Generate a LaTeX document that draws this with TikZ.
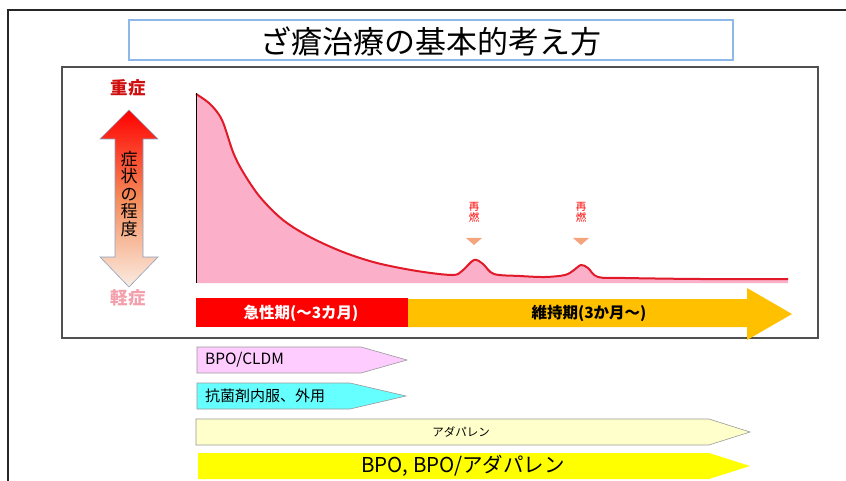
\documentclass[tikz,border=0pt]{standalone}
\usepackage{fontspec}
\setmainfont{Noto Sans CJK JP}
\usetikzlibrary{shapes.geometric}
\definecolor{titleblue}{HTML}{8DB8E8}
\definecolor{curvepink}{HTML}{FBAFC8}
\definecolor{curvered}{HTML}{E01A28}
\definecolor{phasered}{HTML}{FF0000}
\definecolor{phaseorange}{HTML}{FFC000}
\definecolor{bpopink}{HTML}{FFCCFF}
\definecolor{abcyan}{HTML}{66FFFF}
\definecolor{adacream}{HTML}{FFFFCC}
\definecolor{bpoyellow}{HTML}{FFFF00}
\definecolor{severe}{HTML}{D01010}
\definecolor{mild}{HTML}{F4A0AC}
\definecolor{trisalmon}{HTML}{F4A57E}
\definecolor{frame}{HTML}{505050}
\definecolor{arrowedge}{HTML}{8CA0BE}
\tikzset{
  frameline/.style={draw=frame, line width=1.2pt},
  drugbox/.style={draw=gray!80, line width=0.6pt},
  lbl/.style={inner sep=0pt, font=\fontsize{15.5}{17}\selectfont},
  relapse/.style={inner sep=0pt, text=red, align=center, font=\fontsize{10.5}{11}\selectfont},
}
\begin{document}
\begin{tikzpicture}[x=1pt,y=-1pt]
\useasboundingbox (0,0) rectangle (846,481);
% outer frame
\draw[draw=black!85, line width=2pt] (8,490) -- (8,10) -- (850,10);
% title
\node[draw=titleblue, line width=1.2pt, minimum width=604pt, minimum height=40pt, inner sep=0pt] (title) at (431,40) {};
\node[inner sep=0pt, font=\fontsize{31}{32}\selectfont] (titletext) at (431,41) {ざ瘡治療の基本的考え方};
% inner frame
\draw[frameline] (62,67) rectangle (818,338);
% severity arrow
\path[draw=arrowedge, line width=0.6pt, top color=red, bottom color={rgb,255:red,250;green,236;blue,226}, middle color={rgb,255:red,245;green,140;blue,90}]
  (129,110) -- (158,139) -- (143,139) -- (143,257) -- (158,257) -- (129,287) -- (100,257) -- (115,257) -- (115,139) -- (100,139) -- cycle;
\node[inner sep=0pt, align=center, font=\fontsize{17}{17.5}\selectfont] (degree) at (129,194) {症\\状\\の\\程\\度};
\node[inner sep=0pt, text=severe, font=\bfseries\fontsize{17.5}{18}\selectfont] (sev) at (128,88) {重症};
\node[inner sep=0pt, text=mild, font=\bfseries\fontsize{17.5}{18}\selectfont] (mildtxt) at (128,298) {軽症};
% curve
\def\curvepts{(196,94) (210,104) (222,120) (233,152) (243,172) (260,197) (283,220) (310,237) (343,252) (377,263) (417,271) (452,275) (462,271) (474,260) (483,264) (494,274) (520,276) (545,277) (565,275) (574,270) (581,265) (588,268) (598,277) (625,278) (700,279) (788,279)}
\fill[curvepink] plot[smooth, tension=0.55] coordinates {\curvepts} -- (788,283) -- (196,283) -- cycle;
\draw[curvered, line width=2pt] plot[smooth, tension=0.55] coordinates {\curvepts};
\draw[black, line width=1pt] (196,93) -- (196,283);
% relapse marks
\node[relapse] (r1) at (474,212) {再\\燃};
\node[relapse] (r2) at (581,212) {再\\燃};
\fill[trisalmon] (466,238) -- (482,238) -- (474,245) -- cycle;
\fill[trisalmon] (573,238) -- (589,238) -- (581,245) -- cycle;
% phases
\fill[phaseorange] (408,299) -- (747,299) -- (747,288) -- (792,314) -- (747,340) -- (747,327) -- (408,327) -- cycle;
\fill[phasered] (196,298) rectangle (408,327);
\node[inner sep=0pt, text=white, font=\bfseries\fontsize{15.5}{17}\selectfont] (acute) at (301,313) {急性期(～3カ月)};
\node[inner sep=0pt, text=black, font=\bfseries\fontsize{15.5}{17}\selectfont] (maint) at (589,313) {維持期(3か月～)};
% drug arrows
\filldraw[drugbox, fill=bpopink] (197,347) -- (361,347) -- (407,360) -- (361,373) -- (197,373) -- cycle;
\node[lbl, anchor=west] (bpo) at (205,360) {BPO/CLDM};
\filldraw[drugbox, fill=abcyan] (197,383) -- (350,383) -- (406,396) -- (350,409) -- (197,409) -- cycle;
\node[inner sep=0pt, anchor=west, font=\fontsize{15}{16}\selectfont] (ab) at (205,396) {抗菌剤内服、外用};
\filldraw[drugbox, fill=adacream] (196,419) -- (709,419) -- (750,432) -- (709,445) -- (196,445) -- cycle;
\node[inner sep=0pt, font=\fontsize{11.5}{12}\selectfont] (ada) at (461,432) {アダパレン};
\fill[bpoyellow] (198,453) -- (709,453) -- (750,466) -- (709,479) -- (198,479) -- cycle;
\node[inner sep=0pt, font=\fontsize{20.5}{21}\selectfont] (bpoada) at (463,466) {BPO, BPO/アダパレン};
\end{tikzpicture}
\end{document}
